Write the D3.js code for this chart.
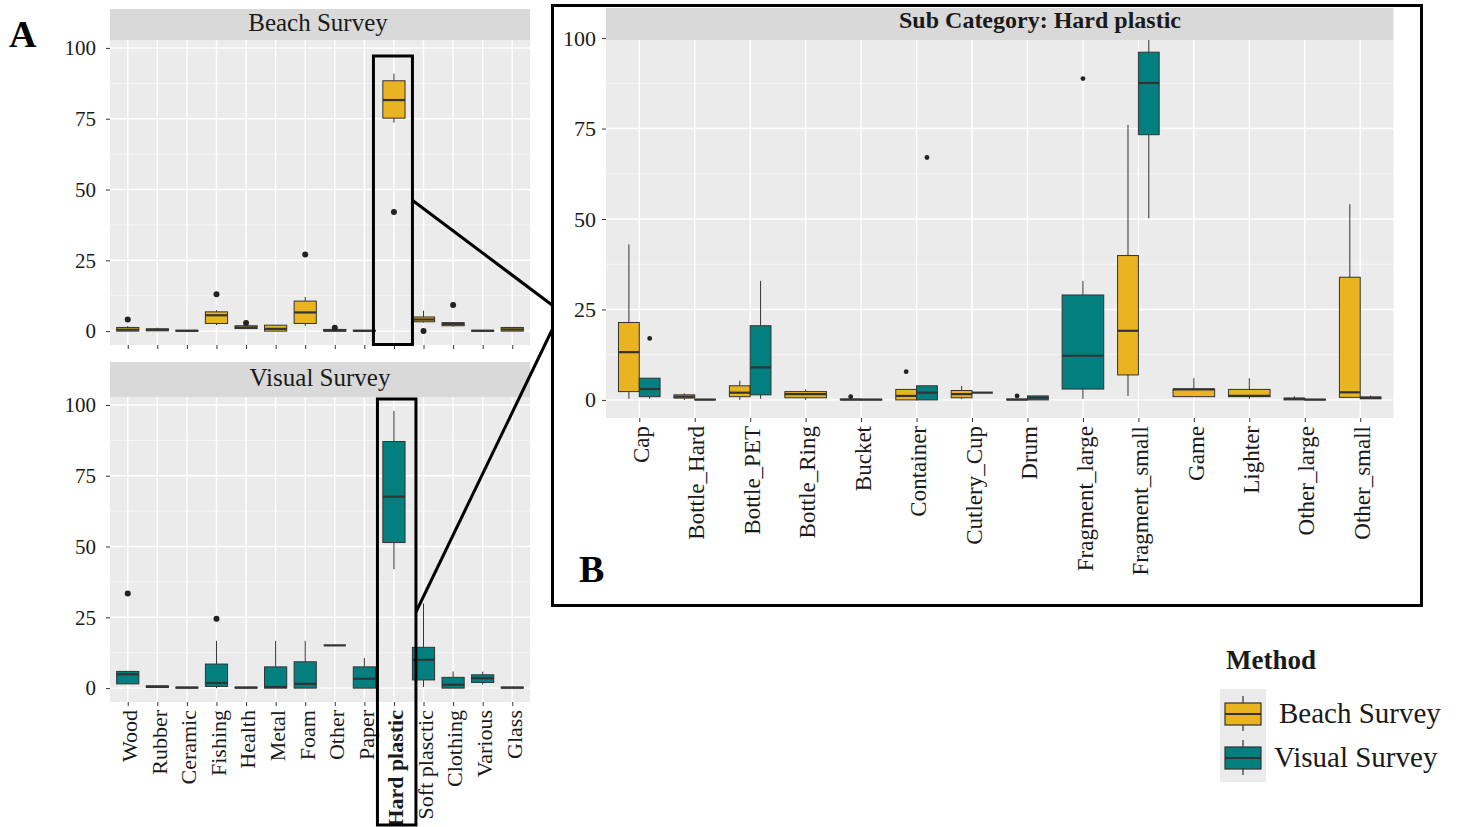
<!DOCTYPE html>
<html>
<head>
<meta charset="utf-8">
<script src="https://cdn.jsdelivr.net/npm/d3@7"></script>
<style>
  html, body { margin: 0; padding: 0; background: #fff; }
  svg { display: block; font-family: "Liberation Serif", "Times New Roman", serif; }
</style>
</head>
<body>
<svg id="chart" width="1468" height="827"></svg>
<script>
// ---- Panel A: litter categories (percent per survey) ----
const catsA = ["Wood", "Rubber", "Ceramic", "Fishing", "Health", "Metal", "Foam", "Other",
               "Paper", "Hard plastic", "Soft plasctic", "Clothing", "Various", "Glass"];

// Beach Survey: whisker low, Q1, median, Q3, whisker high, outliers
const beachA_lo  = [0,   0,   0,   2.1, 0.9, 0,   1.8,  0,   0,   73.6, 3.0, 1.5, 0,   0];
const beachA_q1  = [0,   0.1, 0,   2.7, 0.9, 0,   2.7,  0,   0,   75.2, 3.3, 1.9, 0,   0];
const beachA_med = [0.5, 0.5, 0.1, 5.6, 1.3, 0.8, 6.6,  0.2, 0.1, 81.6, 4.1, 2.5, 0.1, 0.6];
const beachA_q3  = [1.3, 0.8, 0.3, 6.8, 1.9, 2.1, 10.6, 0.6, 0.3, 88.4, 5.0, 3.0, 0.3, 1.3];
const beachA_hi  = [1.8, 1.2, 0.3, 7.4, 1.9, 2.1, 12.1, 0.6, 0.3, 90.9, 7.2, 3.0, 0.3, 1.3];
const beachA_out = [[4.1], [], [], [13.0], [2.9], [], [27.1], [1.2], [], [42.1], [0], [9.2], [], []];

// Visual Survey
const visualA_lo  = [1.5, 0.2, 0,   0,    0,   0,    0,    15.1, 0,    42.0, 0.4,  0,   1.2, 0];
const visualA_q1  = [1.5, 0.2, 0,   0.6,  0,   0,    0,    15.1, 0,    51.4, 2.9,  0,   2.0, 0];
const visualA_med = [4.9, 0.5, 0.2, 1.8,  0.2, 0.4,  1.5,  15.1, 3.3,  67.6, 10.0, 1.2, 3.5, 0.2];
const visualA_q3  = [5.9, 0.8, 0.3, 8.5,  0.3, 7.5,  9.3,  15.1, 7.5,  87.1, 14.4, 3.8, 4.7, 0.3];
const visualA_hi  = [5.9, 0.8, 0.3, 16.7, 0.3, 16.7, 16.7, 15.1, 10.6, 97.9, 29.9, 5.9, 5.8, 0.3];
const visualA_out = [[33.4], [], [], [24.5], [], [], [], [], [], [], [], [], [], []];

// ---- Panel B: hard plastic sub categories ----
const catsB = ["Cap", "Bottle_Hard", "Bottle_PET", "Bottle_Ring", "Bucket", "Container", "Cutlery_Cup",
               "Drum", "Fragment_large", "Fragment_small", "Game", "Lighter", "Other_large", "Other_small"];

// null = method has no records in that sub category
const beachB_lo  = [0.3,  0,   0,   0,   0,   0,   0.3, 0,   null, 1.1,  0.9, 0.3, 0,   0.7];
const beachB_q1  = [2.3,  0.5, 0.9, 0.6, 0,   0,   0.6, 0,   null, 6.9,  0.9, 0.9, 0,   0.7];
const beachB_med = [13.2, 0.9, 2.0, 1.6, 0.1, 1.1, 1.6, 0.1, null, 19.1, 2.9, 1.1, 0.3, 2.1];
const beachB_q3  = [21.4, 1.4, 3.9, 2.3, 0.2, 2.9, 2.6, 0.2, null, 39.9, 3.0, 2.9, 0.5, 33.9];
const beachB_hi  = [43.0, 1.8, 5.3, 2.9, 0.2, 2.9, 3.9, 0.2, null, 76.0, 6.0, 6.0, 1.0, 54.1];
const beachB_out = [[], [], [], [], [0.9], [7.8], [], [1.1], [], [], [], [], [], []];

const visualB_lo  = [0.3, 0,   0.3,  null, 0,   0,   2.0, 0,   0.3,  50.2, null, null, 0,   0.3];
const visualB_q1  = [0.9, 0,   1.4,  null, 0,   0,   2.0, 0,   3.0,  73.3, null, null, 0,   0.3];
const visualB_med = [3.0, 0.1, 9.0,  null, 0.1, 2.0, 2.0, 0.6, 12.2, 87.6, null, null, 0.1, 0.6];
const visualB_q3  = [6.0, 0.1, 20.5, null, 0.1, 3.9, 2.0, 1.1, 29.0, 96.1, null, null, 0.1, 0.8];
const visualB_hi  = [6.0, 0.1, 32.9, null, 0.1, 3.9, 2.0, 1.1, 32.9, 100,  null, null, 0.1, 1.2];
const visualB_out = [[17.0], [], [], [], [], [67.0], [], [], [88.8], [], [], [], [], []];

const methods = ["Beach Survey", "Visual Survey"];
const methodColors = ["#EAB320", "#037F80"];
const yTicks = [0, 25, 50, 75, 100];
const yMinor = [12.5, 37.5, 62.5, 87.5];

// ---- helpers ----
function series(cats, lo, q1, med, q3, hi, out) {
  return cats.map((c, i) => med[i] == null ? null :
    { cat: c, lo: lo[i], q1: q1[i], med: med[i], q3: q3[i], hi: hi[i], out: out[i] });
}
const empty = cats => cats.map(() => null);

const svg = d3.select("#chart");
const TEXT = "#1a1a1a";
const LINE = "#333333";

function drawPanel(opt) {
  const { x, y, left, right, top, bottom } = opt;
  const g = svg.append("g");
  g.append("rect").attr("x", left).attr("y", top).attr("width", right - left)
    .attr("height", bottom - top).attr("fill", "#EBEBEB");
  // minor grid
  g.selectAll(".minor").data(yMinor).join("line")
    .attr("x1", left).attr("x2", right)
    .attr("y1", d => y(d)).attr("y2", d => y(d))
    .attr("stroke", "#fff").attr("stroke-width", 0.7).attr("opacity", 0.8);
  // major grid
  g.selectAll(".majorY").data(yTicks).join("line")
    .attr("x1", left).attr("x2", right)
    .attr("y1", d => y(d)).attr("y2", d => y(d))
    .attr("stroke", "#fff").attr("stroke-width", 1.4);
  g.selectAll(".majorX").data(x.domain()).join("line")
    .attr("x1", d => x(d)).attr("x2", d => x(d))
    .attr("y1", top).attr("y2", bottom)
    .attr("stroke", "#fff").attr("stroke-width", 1.4);

  // y axis
  const ya = svg.append("g").attr("transform", `translate(${left},0)`)
    .call(d3.axisLeft(y).tickValues(yTicks).tickSize(4).tickPadding(opt.yPad));
  ya.select(".domain").remove();
  ya.selectAll(".tick line").attr("stroke", LINE);
  ya.selectAll(".tick text").attr("fill", TEXT).attr("font-size", opt.yFont)
    .attr("font-family", "Liberation Serif, serif");

  // x axis
  const xa = svg.append("g").attr("transform", `translate(0,${bottom})`)
    .call(d3.axisBottom(x).tickSize(4).tickPadding(0));
  xa.select(".domain").remove();
  xa.selectAll(".tick line").attr("stroke", LINE);
  if (opt.xLabels) {
    xa.selectAll(".tick text")
      .attr("fill", TEXT).attr("font-size", opt.xFont)
      .attr("font-family", "Liberation Serif, serif")
      .attr("font-weight", d => opt.boldCat === d ? "bold" : "normal")
      .attr("text-anchor", "end")
      .attr("transform", `translate(0,${opt.xLabelOffset}) rotate(-90)`)
      .attr("x", 0).attr("y", 0).attr("dy", "0.4em");
  } else {
    xa.selectAll(".tick text").remove();
  }
  return g;
}

function drawBoxes(g, x, y, groups, opt) {
  const step = x.step();
  const full = 0.75 * step;
  x.domain().forEach((cat, i) => {
    const present = groups.map((s, k) => ({ d: s[i], k })).filter(o => o.d);
    const n = present.length;
    present.forEach((o, j) => {
      const w = full / n;
      const cx = x(cat) - full / 2 + w * (j + 0.5);
      const d = o.d;
      const col = methodColors[o.k];
      g.append("line").attr("x1", cx).attr("x2", cx).attr("y1", y(d.hi)).attr("y2", y(d.q3))
        .attr("stroke", LINE).attr("stroke-width", 1);
      g.append("line").attr("x1", cx).attr("x2", cx).attr("y1", y(d.q1)).attr("y2", y(d.lo))
        .attr("stroke", LINE).attr("stroke-width", 1);
      g.append("rect").attr("x", cx - w / 2).attr("width", w)
        .attr("y", y(d.q3)).attr("height", Math.max(0, y(d.q1) - y(d.q3)))
        .attr("fill", col).attr("stroke", LINE).attr("stroke-width", 1);
      g.append("line").attr("x1", cx - w / 2).attr("x2", cx + w / 2)
        .attr("y1", y(d.med)).attr("y2", y(d.med))
        .attr("stroke", LINE).attr("stroke-width", 2.2);
      g.selectAll(null).data(d.out).join("circle")
        .attr("cx", cx).attr("cy", v => y(v)).attr("r", opt.r).attr("fill", "#222");
    });
  });
}

function strip(x0, x1, y0, y1, label, opts) {
  svg.append("rect").attr("x", x0).attr("y", y0).attr("width", x1 - x0).attr("height", y1 - y0)
    .attr("fill", "#D9D9D9");
  svg.append("text").attr("x", opts.cx).attr("y", opts.baseline)
    .attr("text-anchor", "middle").attr("font-size", opts.size)
    .attr("font-weight", opts.bold ? "bold" : "normal").attr("fill", TEXT).text(label);
}

// ---- Panel A, top facet: Beach Survey ----
const xA = d3.scalePoint().domain(catsA).range([110, 530]).padding(0.6);
const yA1 = d3.scaleLinear().domain([-4.9, 102.8]).range([345, 40]);
const yA2 = d3.scaleLinear().domain([-4.9, 102.8]).range([702, 397]);

const gA1 = drawPanel({ x: xA, y: yA1, left: 110, right: 530, top: 40, bottom: 345,
  yPad: 10, yFont: 21, xLabels: false });
drawBoxes(gA1, xA, yA1, [
  series(catsA, beachA_lo, beachA_q1, beachA_med, beachA_q3, beachA_hi, beachA_out),
  empty(catsA)
], { r: 3 });
strip(110, 530, 9, 40, "Beach Survey", { cx: 318, baseline: 31, size: 25 });

// ---- Panel A, bottom facet: Visual Survey ----
const gA2 = drawPanel({ x: xA, y: yA2, left: 110, right: 530, top: 397, bottom: 702,
  yPad: 10, yFont: 21, xLabels: true, xFont: 22, xLabelOffset: 8, boldCat: "Hard plastic" });
drawBoxes(gA2, xA, yA2, [
  empty(catsA),
  series(catsA, visualA_lo, visualA_q1, visualA_med, visualA_q3, visualA_hi, visualA_out)
], { r: 3 });
strip(110, 530, 362, 397, "Visual Survey", { cx: 320, baseline: 386, size: 25 });

// ---- Panel B: hard plastic detail ----
const xB = d3.scalePoint().domain(catsB).range([606, 1393.5]).padding(0.6);
const yB = d3.scaleLinear().domain([-5, 105]).range([418, 20]);
const gB = drawPanel({ x: xB, y: yB, left: 606, right: 1393.5, top: 40, bottom: 418,
  yPad: 6, yFont: 22, xLabels: true, xFont: 23, xLabelOffset: 8 });
drawBoxes(gB, xB, yB, [
  series(catsB, beachB_lo, beachB_q1, beachB_med, beachB_q3, beachB_hi, beachB_out),
  series(catsB, visualB_lo, visualB_q1, visualB_med, visualB_q3, visualB_hi, visualB_out)
], { r: 2.4 });
strip(606, 1393.5, 8, 40, "Sub Category: Hard plastic", { cx: 1040, baseline: 28, size: 24, bold: true });

// frame around panel B
svg.append("rect").attr("x", 552.5).attr("y", 5.5).attr("width", 869).attr("height", 600)
  .attr("fill", "none").attr("stroke", "#000").attr("stroke-width", 3);

// highlight boxes on the hard plastic category and connectors to panel B
svg.append("rect").attr("x", xA("Hard plastic") - 20.5).attr("y", 56).attr("width", 39).attr("height", 288.5)
  .attr("fill", "none").attr("stroke", "#000").attr("stroke-width", 3);
svg.append("rect").attr("x", xA("Hard plastic") - 16.5).attr("y", 399).attr("width", 38.5).attr("height", 426)
  .attr("fill", "none").attr("stroke", "#000").attr("stroke-width", 3);
svg.append("line").attr("x1", 412).attr("y1", 200).attr("x2", 552).attr("y2", 305)
  .attr("stroke", "#000").attr("stroke-width", 3);
svg.append("line").attr("x1", 416).attr("y1", 612).attr("x2", 552).attr("y2", 330)
  .attr("stroke", "#000").attr("stroke-width", 3);

// panel letters
svg.append("text").attr("x", 9).attr("y", 47).attr("font-size", 38).attr("font-weight", "bold")
  .attr("fill", "#000").text("A");
svg.append("text").attr("x", 579).attr("y", 582).attr("font-size", 38).attr("font-weight", "bold")
  .attr("fill", "#000").text("B");

// ---- legend ----
const lg = svg.append("g");
lg.append("text").attr("x", 1226).attr("y", 669).attr("font-size", 27).attr("font-weight", "bold")
  .attr("fill", TEXT).text("Method");
lg.append("rect").attr("x", 1220).attr("y", 689).attr("width", 46).attr("height", 93).attr("fill", "#EBEBEB");
methods.forEach((m, i) => {
  const cy = 714 + i * 44;
  lg.append("line").attr("x1", 1243).attr("x2", 1243).attr("y1", cy - 18).attr("y2", cy + 17)
    .attr("stroke", LINE).attr("stroke-width", 1.2);
  lg.append("rect").attr("x", 1225).attr("y", cy - 11).attr("width", 36).attr("height", 22)
    .attr("fill", methodColors[i]).attr("stroke", LINE).attr("stroke-width", 1.2);
  lg.append("line").attr("x1", 1225).attr("x2", 1261).attr("y1", cy).attr("y2", cy)
    .attr("stroke", LINE).attr("stroke-width", 2);
  lg.append("text").attr("x", i === 0 ? 1279 : 1274).attr("y", cy + 9).attr("font-size", 29)
    .attr("fill", TEXT).text(m);
});
</script>
</body>
</html>
